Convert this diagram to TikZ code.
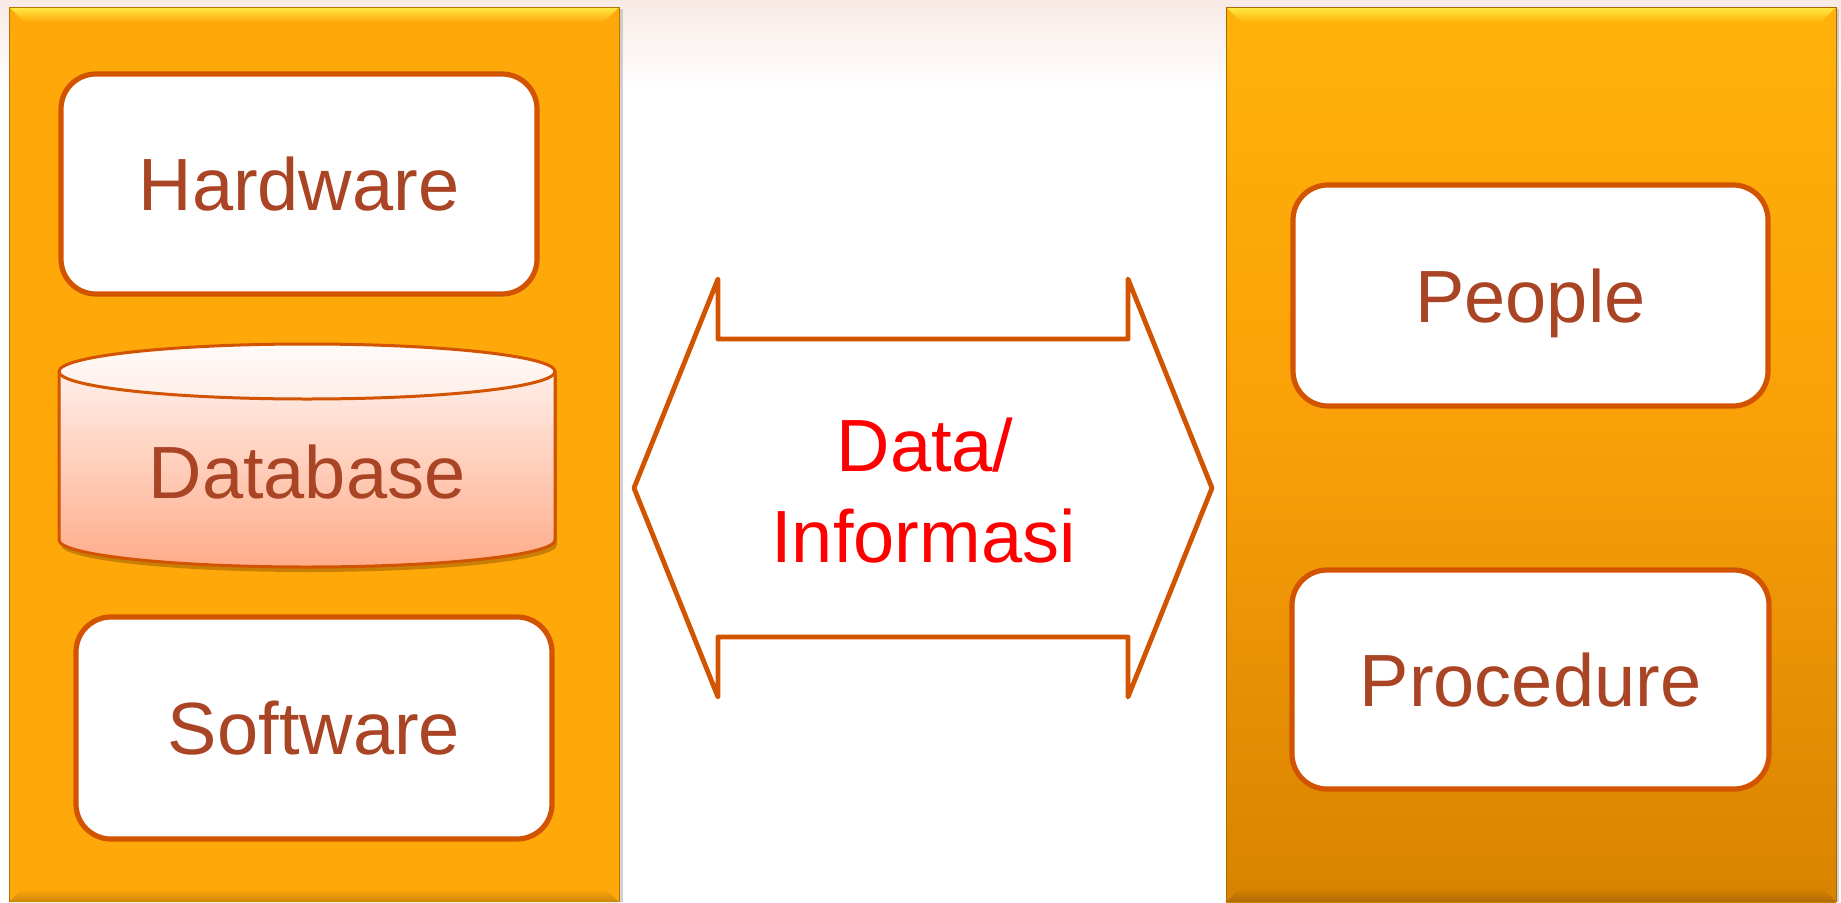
\documentclass[tikz,border=0pt]{standalone}
\usepackage{fontspec}
\setmainfont{Liberation Sans}
\definecolor{panelA}{RGB}{255,168,10}
\definecolor{panelTop}{RGB}{255,178,10}
\definecolor{panelMid}{RGB}{250,160,8}
\definecolor{panelBot}{RGB}{216,131,0}
\definecolor{boxline}{RGB}{210,84,0}
\definecolor{boxtext}{RGB}{169,68,36}
\definecolor{bevel}{RGB}{255,236,70}
\definecolor{dbtop}{RGB}{255,238,232}
\definecolor{dbbot}{RGB}{255,172,138}
\definecolor{haze}{RGB}{248,234,229}
\tikzset{
  compbox/.style={draw=boxline, line width=5.2pt, fill=white, rounded corners=35pt,
    text=boxtext, font=\fontsize{74}{88}\selectfont, text height=53pt, text depth=0pt,
    inner sep=0pt},
  infotext/.style={text=red, font=\fontsize{74}{91}\selectfont, inner sep=0pt, anchor=base},
  arrowline/.style={draw=boxline, line width=4.8pt, line join=round, fill=white}
}
\begin{document}
\begin{tikzpicture}[x=1pt,y=-1pt]
\useasboundingbox (0,0) rectangle (1841,902);
\fill[white] (0,0) rectangle (1841,902);
\shade[top color=haze, bottom color=white] (0,0) rectangle (1841,90);
% left panel
\fill[black!35, opacity=0.5] (12,9) rectangle (623,902);
\fill[panelA] (9,7) rectangle (619,902);
\shade[top color=bevel, bottom color=panelA] (9,7) -- (619,7) -- (604,22) -- (24,22) -- cycle;
\shade[top color=panelA, bottom color=panelA!80!black] (9,902) -- (619,902) -- (606,889) -- (22,889) -- cycle;
\draw[panelA!70!black, line width=0.8pt] (9,902) -- (9,7) -- (619,7) -- (619,902);
% right panel
\fill[black!35, opacity=0.5] (1229,9) rectangle (1839,902);
\shade[top color=panelTop, bottom color=panelMid] (1226,7) rectangle (1836,420);
\shade[top color=panelMid, bottom color=panelBot] (1226,419) rectangle (1836,902);
\shade[top color=bevel, bottom color=panelTop] (1226,7) -- (1836,7) -- (1821,22) -- (1241,22) -- cycle;
\shade[top color=panelBot, bottom color=panelBot!80!black] (1226,902) -- (1836,902) -- (1823,889) -- (1239,889) -- cycle;
\draw[panelBot!80!black, line width=0.8pt] (1226,902) -- (1226,7) -- (1836,7) -- (1836,902);
% component boxes
\node[compbox, minimum width=476pt, minimum height=220pt] (hw) at (299,184) {Hardware};
\node[compbox, minimum width=476pt, minimum height=222pt] (sw) at (314,728) {Software};
\node[compbox, minimum width=475pt, minimum height=221pt] (people) at (1530.5,295.5) {People};
\node[compbox, minimum width=477pt, minimum height=219pt] (proc) at (1530.5,679.5) {Procedure};
% database cylinder
\fill[black!60!orange, opacity=0.35] (61,375) -- (61,545) arc[start angle=180, end angle=0, x radius=248, y radius=27] -- (557,375) -- cycle;
\shade[top color=dbtop, bottom color=dbbot] (59,371.5) -- (59,540) arc[start angle=180, end angle=0, x radius=248, y radius=27] -- (555,371.5) arc[start angle=0, end angle=180, x radius=248, y radius=27.5] -- cycle;
\draw[boxline, line width=3pt, line join=round] (59,371.5) -- (59,540) arc[start angle=180, end angle=0, x radius=248, y radius=27] -- (555,371.5);
\shade[top color=white!70!dbtop, bottom color=dbtop] (307,371.5) ellipse[x radius=248, y radius=27.5];
\draw[boxline, line width=3pt] (307,371.5) ellipse[x radius=248, y radius=27.5];
\node[text=boxtext, font=\fontsize{74}{88}\selectfont, text height=53pt, text depth=0pt, inner sep=0pt] (db) at (307,471.5) {Database};
% double arrow
\draw[arrowline] (634,488) -- (718,279) -- (718,339) -- (1128,339) -- (1128,279) -- (1212,488)
  -- (1128,697) -- (1128,637) -- (718,637) -- (718,697) -- cycle;
\node[infotext] (info1) at (925,471) {Data/};
\node[infotext] (info2) at (923.5,562) {Informasi};
\end{tikzpicture}
\end{document}
